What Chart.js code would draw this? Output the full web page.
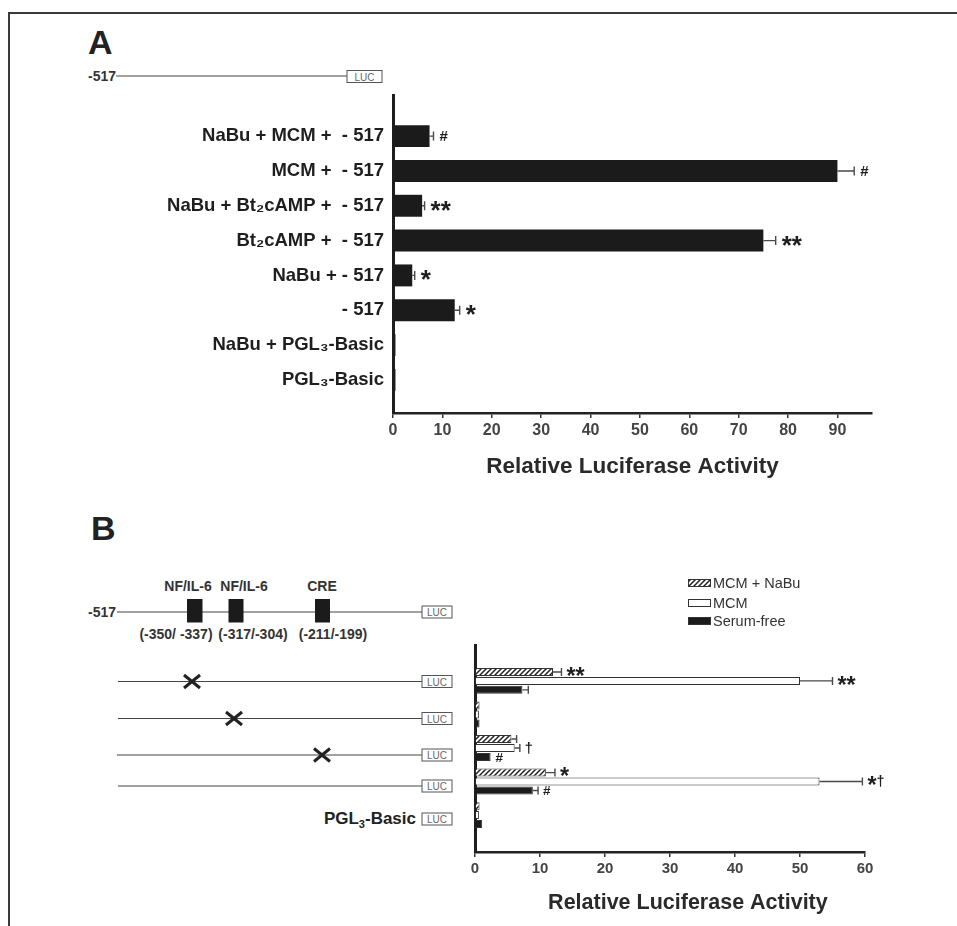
<!DOCTYPE html>
<html>
<head>
<meta charset="utf-8">
<script src="https://cdn.jsdelivr.net/npm/chart.js@4.4.1/dist/chart.umd.min.js"></script>
<style>
  html, body { margin: 0; padding: 0; background: #fff; }
  #page { position: relative; width: 957px; height: 926px; overflow: hidden; font-family: "Liberation Sans", Arial, sans-serif; }
  #frame { position: absolute; left: 8px; top: 12px; right: -2px; bottom: -2px; border-top: 2px solid #3a3a3a; border-left: 2px solid #3a3a3a; }
  svg { position: absolute; left: 0; top: 0; }
  canvas { position: absolute; }
  #chartA { left: 150px; top: 83px; }
  #chartB { left: 460px; top: 560px; }
</style>
</head>
<body>
<div id="page">
  <div id="frame"></div>
  <svg width="957" height="926" font-family="Liberation Sans, Arial, sans-serif">
    <!-- panel letters -->
    <text x="88" y="54" font-size="34" font-weight="bold" fill="#222">A</text>
    <text x="91" y="540" font-size="34" font-weight="bold" fill="#222">B</text>

    <!-- panel A construct -->
    <text x="88" y="81" font-size="14" font-weight="bold" fill="#333">-517</text>
    <line x1="116" y1="76" x2="347" y2="76" stroke="#444" stroke-width="1.2"/>
    <rect x="347" y="70.5" width="35" height="12" fill="#fff" stroke="#555" stroke-width="1"/>
    <text x="364.5" y="80.5" font-size="10" text-anchor="middle" fill="#666">LUC</text>

    <!-- panel B wild-type construct -->
    <text x="88" y="617" font-size="14" font-weight="bold" fill="#333">-517</text>
    <line x1="117" y1="612" x2="422" y2="612" stroke="#444" stroke-width="1.2"/>
    <rect x="187" y="599" width="15.5" height="23.5" fill="#1b1b1b"/>
    <rect x="228.5" y="599" width="15" height="23.5" fill="#1b1b1b"/>
    <rect x="315" y="599" width="15" height="23.5" fill="#1b1b1b"/>
    <rect x="422" y="606" width="30" height="12" fill="#fff" stroke="#555" stroke-width="1"/>
    <text x="437" y="616" font-size="10" text-anchor="middle" fill="#666">LUC</text>
    <g font-size="14" font-weight="bold" fill="#333" text-anchor="middle">
      <text x="188" y="591">NF/IL-6</text>
      <text x="244" y="591">NF/IL-6</text>
      <text x="322" y="591">CRE</text>
      <text x="176" y="639">(-350/ -337)</text>
      <text x="253" y="639">(-317/-304)</text>
      <text x="333" y="639">(-211/-199)</text>
    </g>

    <!-- panel B mutant constructs -->
    <g stroke="#444" stroke-width="1.2">
      <line x1="118" y1="681.5" x2="422" y2="681.5"/>
      <line x1="118" y1="718.5" x2="422" y2="718.5"/>
      <line x1="117" y1="755" x2="422" y2="755"/>
      <line x1="118" y1="786" x2="422" y2="786"/>
    </g>
    <g fill="#fff" stroke="#555" stroke-width="1">
      <rect x="422" y="675.5" width="30" height="12"/>
      <rect x="422" y="712.5" width="30" height="12"/>
      <rect x="422" y="749" width="30" height="12"/>
      <rect x="422" y="780" width="30" height="12"/>
      <rect x="422" y="813" width="30" height="12"/>
    </g>
    <g font-size="10" text-anchor="middle" fill="#666">
      <text x="437" y="685.5">LUC</text>
      <text x="437" y="722.5">LUC</text>
      <text x="437" y="759">LUC</text>
      <text x="437" y="790">LUC</text>
      <text x="437" y="823">LUC</text>
    </g>
    <g stroke="#222" stroke-width="3" fill="none">
      <path d="M184 675 L200 688 M200 675 L184 688"/>
      <path d="M226 712 L242 725 M242 712 L226 725"/>
      <path d="M314 748.5 L330 761.5 M330 748.5 L314 761.5"/>
    </g>
    <text x="416" y="824" font-size="17" font-weight="bold" text-anchor="end" fill="#222">PGL<tspan font-size="11" dy="4">3</tspan><tspan dy="-4">-Basic</tspan></text>
  </svg>
  <canvas id="chartA" width="750" height="397"></canvas>
  <canvas id="chartB" width="440" height="356"></canvas>
</div>
<script>
// panel A: -517 promoter under different treatments
const labelsA = ['NaBu + MCM +  - 517', 'MCM +  - 517', 'NaBu + Bt\u2082cAMP +  - 517', 'Bt\u2082cAMP +  - 517',
                 'NaBu + - 517', '- 517', 'NaBu + PGL\u2083-Basic', 'PGL\u2083-Basic'];
const valuesA = [7.4, 90, 5.9, 75, 3.9, 12.5, 0.5, 0.5];
const errorsA = [0.8, 3.4, 0.5, 2.5, 0.5, 1.0, 0, 0];
const marksA = ['#', '#', '**', '**', '*', '*', '', ''];
const ticksA = [0, 10, 20, 30, 40, 50, 60, 70, 80, 90];

// panel B: site mutants (NF/IL-6 x2, CRE), wild type, empty vector
const constructsB = ['mut NF/IL-6 (-350/-337)', 'mut NF/IL-6 (-317/-304)', 'mut CRE (-211/-199)', '-517', 'PGL3-Basic'];
const mcmNaBu = [12.0, 0.7, 5.6, 10.9, 0.7];
const mcmNaBuErr = [1.3, 0, 0.8, 1.4, 0];
const mcmNaBuMarks = ['**', '', '', '*', ''];
const mcm = [50.0, 0.6, 6.1, 53.0, 0.6];
const mcmErr = [5.0, 0, 0.8, 6.6, 0];
const mcmMarks = ['**', '', '\u2020', '*\u2020', ''];
const serumFree = [7.3, 0.7, 2.4, 8.9, 1.1];
const serumFreeErr = [0.9, 0, 0, 0.8, 0];
const serumFreeMarks = ['', '', '#', '#', ''];
const ticksB = [0, 10, 20, 30, 40, 50, 60];

const FONT = '"Liberation Sans", Arial, sans-serif';
Chart.defaults.font.family = FONT;

// significance glyphs: size and how far to drop the baseline so the glyph sits on the bar centre
const glyph = {
  '*': { size: 26, rise: 0.5 },
  '#': { size: 15, rise: 0.36 },
  '\u2020': { size: 16, rise: 0.32 }
};

function drawMark(ctx, text, x, y, k) {
  ctx.fillStyle = '#1e1e1e';
  ctx.textAlign = 'left';
  ctx.textBaseline = 'alphabetic';
  for (const ch of text) {
    const g = glyph[ch];
    const s = g.size * k;
    ctx.font = 'bold ' + s + 'px ' + FONT;
    ctx.fillText(ch, x, y + s * g.rise);
    x += ctx.measureText(ch).width;
  }
}

const errorBars = {
  id: 'errorBars',
  afterDatasetsDraw(chart, args, opts) {
    const ctx = chart.ctx;
    const xs = chart.scales.x;
    ctx.save();
    chart.data.datasets.forEach((ds, i) => {
      const meta = chart.getDatasetMeta(i);
      meta.data.forEach((bar, j) => {
        const err = ds.errors[j];
        let end = bar.x;
        if (err > 0) {
          const xe = xs.getPixelForValue(ds.data[j].x + err);
          ctx.strokeStyle = '#4a4a4a';
          ctx.lineWidth = 1.4;
          ctx.beginPath();
          ctx.moveTo(bar.x, bar.y);
          ctx.lineTo(xe, bar.y);
          ctx.moveTo(xe, bar.y - opts.cap / 2);
          ctx.lineTo(xe, bar.y + opts.cap / 2);
          ctx.stroke();
          end = xe;
        }
        if (ds.marks[j]) drawMark(ctx, ds.marks[j], end + opts.gap, bar.y, opts.scale);
      });
    });
    ctx.restore();
  }
};

// vertical legend above panel B's plot
const legendB = {
  id: 'legendB',
  afterDraw(chart) {
    const ctx = chart.ctx;
    const rows = [23, 43, 61];
    ctx.save();
    chart.data.datasets.forEach((ds, i) => {
      const y = rows[i];
      ctx.fillStyle = ds.backgroundColor;
      ctx.fillRect(228, y - 4, 23, 8);
      ctx.strokeStyle = '#333';
      ctx.lineWidth = 1;
      ctx.strokeRect(228.5, y - 3.5, 22, 7);
      ctx.fillStyle = '#333';
      ctx.font = '14.5px ' + FONT;
      ctx.textAlign = 'left';
      ctx.textBaseline = 'middle';
      ctx.fillText(ds.label, 253, y + 1);
    });
    ctx.restore();
  }
};

function hatchPattern(ctx) {
  const c = document.createElement('canvas');
  c.width = 5; c.height = 5;
  const g = c.getContext('2d');
  g.fillStyle = '#fff';
  g.fillRect(0, 0, 5, 5);
  g.strokeStyle = '#222';
  g.lineWidth = 1.5;
  g.beginPath();
  g.moveTo(-1, 6); g.lineTo(6, -1);
  g.moveTo(-1, 1); g.lineTo(1, -1);
  g.moveTo(4, 6); g.lineTo(6, 4);
  g.stroke();
  return ctx.createPattern(c, 'repeat');
}

function xAxis(max, ticks, size, title) {
  return {
    type: 'linear', min: 0, max: max,
    afterBuildTicks: s => { s.ticks = ticks.map(v => ({ value: v })); },
    afterFit: s => { s.height = size.h; },
    grid: { display: true, drawOnChartArea: false, drawTicks: true, tickLength: 5, color: '#333', lineWidth: 1.5 },
    border: { display: true, color: '#222', width: 2.5 },
    ticks: { color: '#444', padding: 3, font: { size: size.tick, weight: 'bold' } },
    title: { display: true, text: title, color: '#2a2a2a', padding: { top: 0, bottom: 0 }, font: { size: size.title, weight: 'bold' } }
  };
}

// index axis: fixed width, and no extra room asked for the end labels
function fitIndexAxis(width) {
  return s => { s.width = width; s.paddingTop = 0; s.paddingBottom = 0; };
}

// ---- panel A ----
new Chart(document.getElementById('chartA'), {
  type: 'bar',
  data: {
    datasets: [{
      label: 'Relative Luciferase Activity',
      data: valuesA.map((v, i) => ({ x: v, y: i })),
      errors: errorsA,
      marks: marksA,
      backgroundColor: '#1b1b1b',
      borderWidth: 0,
      barPercentage: 0.63,
      categoryPercentage: 1
    }]
  },
  options: {
    indexAxis: 'y',
    responsive: false,
    animation: false,
    layout: { padding: { left: 0, right: 28, top: 12, bottom: 0 } },
    scales: {
      x: xAxis(97, ticksA, { h: 67, tick: 16, title: 22.5 }, 'Relative Luciferase Activity'),
      y: {
        type: 'linear', min: -1.18, max: 7.95, reverse: true, offset: false,
        afterBuildTicks: s => { s.ticks = labelsA.map((_, i) => ({ value: i })); },
        afterFit: fitIndexAxis(243),
        grid: { display: false, drawTicks: false },
        border: { display: true, color: '#1e1e1e', width: 3 },
        ticks: { autoSkip: false, color: '#1e1e1e', padding: 9, font: { size: 18.5, weight: 'bold' },
                 callback: v => labelsA[v] }
      }
    },
    plugins: {
      legend: { display: false },
      tooltip: { enabled: false },
      errorBars: { cap: 9, gap: 6, scale: 1 }
    }
  },
  plugins: [errorBars]
});

// ---- panel B ----
const ctxB = document.getElementById('chartB').getContext('2d');
const barStyle = { borderWidth: 1, borderColor: '#333', barPercentage: 0.89, categoryPercentage: 0.8 };
new Chart(ctxB, {
  type: 'bar',
  data: {
    datasets: [
      Object.assign({ label: 'MCM + NaBu', data: mcmNaBu.map((v, i) => ({ x: v, y: i })),
        errors: mcmNaBuErr, marks: mcmNaBuMarks, backgroundColor: hatchPattern(ctxB) }, barStyle),
      Object.assign({ label: 'MCM', data: mcm.map((v, i) => ({ x: v, y: i })),
        errors: mcmErr, marks: mcmMarks, backgroundColor: '#ffffff' }, barStyle),
      Object.assign({ label: 'Serum-free', data: serumFree.map((v, i) => ({ x: v, y: i })),
        errors: serumFreeErr, marks: serumFreeMarks, backgroundColor: '#1b1b1b' }, barStyle)
    ]
  },
  options: {
    indexAxis: 'y',
    responsive: false,
    animation: false,
    layout: { padding: { left: 0, right: 35, top: 85, bottom: 0 } },
    scales: {
      x: xAxis(60, ticksB, { h: 64, tick: 15, title: 21.5 }, '      Relative Luciferase Activity'),
      y: {
        type: 'linear', min: -1.07, max: 5.1, reverse: true, offset: false,
        afterBuildTicks: s => { s.ticks = constructsB.map((_, i) => ({ value: i })); },
        afterFit: fitIndexAxis(15),
        grid: { display: false, drawTicks: false },
        border: { display: true, color: '#1e1e1e', width: 3 },
        ticks: { display: false, callback: v => constructsB[v] }
      }
    },
    plugins: {
      legend: { display: false },
      tooltip: { enabled: false },
      errorBars: { cap: 8, gap: 5, scale: 0.9 }
    }
  },
  plugins: [errorBars, legendB]
});
</script>
</body>
</html>
